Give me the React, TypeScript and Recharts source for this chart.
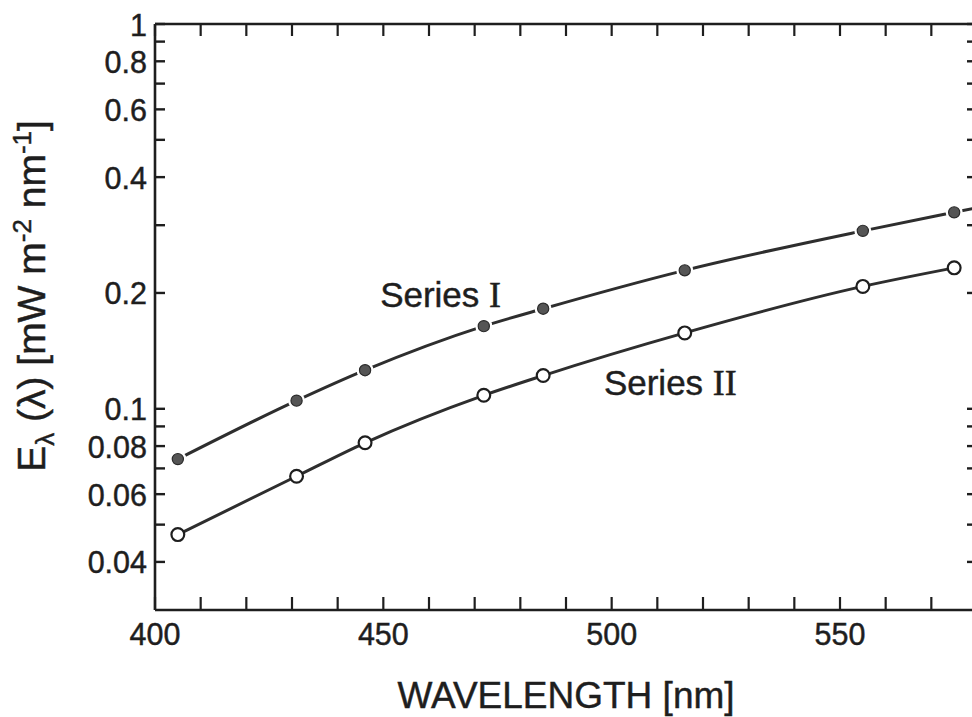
import React from 'react';
import { LineChart, Line, XAxis, YAxis, ReferenceDot } from 'recharts';

// ---- data ----
const wavelengths = [405, 431, 446, 472, 485, 516, 555, 575, 580];
const seriesI = [0.074, 0.105, 0.126, 0.164, 0.182, 0.229, 0.29, 0.324, 0.333];
const seriesII = [0.0471, 0.0668, 0.0816, 0.1084, 0.122, 0.1575, 0.208, 0.2324, null];
const seriesIMarked = [true, true, true, true, true, true, true, true, false];

const xTicks = [400, 410, 420, 430, 440, 450, 460, 470, 480, 490, 500, 510, 520, 530, 540, 550, 560, 570, 580];
const xTickLabels = [400, 450, 500, 550];
const yTicks = [0.04, 0.05, 0.06, 0.07, 0.08, 0.09, 0.1, 0.2, 0.3, 0.4, 0.5, 0.6, 0.7, 0.8, 0.9, 1];
const yTickLabelValues = [0.04, 0.06, 0.08, 0.1, 0.2, 0.4, 0.6, 0.8, 1];
const yTickLabelTexts = ['0.04', '0.06', '0.08', '0.1', '0.2', '0.4', '0.6', '0.8', '1'];

const annotationWords = ['Series', 'Series'];
const annotationNumerals = ['I', 'II'];
const annotationX = [449.3, 498.3];
const annotationY = [0.1834, 0.1089];

const xTitle = 'WAVELENGTH [nm]';

const rows = wavelengths.map((wl, i) => ({ wl, s1: seriesI[i], s2: seriesII[i] }));

const INK = '#1e1e1e';
const SANS = '"Liberation Sans", Arial, Helvetica, sans-serif';
const SERIF = '"Liberation Serif", "Times New Roman", serif';
const TXT_STROKE = 0.45;

const yLabelFor = (v: number) => {
  const i = yTickLabelValues.findIndex((t) => Math.abs(t - v) < 1e-9);
  return i >= 0 ? yTickLabelTexts[i] : null;
};

const LeftTick = (props: any) => {
  const { x, y, payload } = props;
  const label = yLabelFor(payload.value);
  return (
    <g>
      <line x1={x} y1={y} x2={x + 10} y2={y} stroke={INK} strokeWidth={2.4} />
      {label && (
        <text x={x - 8} y={y} dy={11.5} textAnchor="end" fontSize={30.5} fill={INK} stroke={INK} strokeWidth={TXT_STROKE} fontFamily={SANS}>
          {label}
        </text>
      )}
    </g>
  );
};

const RightTick = (props: any) => {
  const { x, y } = props;
  return <line x1={x - 10} y1={y} x2={x} y2={y} stroke={INK} strokeWidth={2.4} />;
};

const BottomTick = (props: any) => {
  const { x, y, payload } = props;
  const show = xTickLabels.includes(payload.value);
  return (
    <g>
      <line x1={x} y1={y - 13} x2={x} y2={y} stroke={INK} strokeWidth={2.2} />
      {show && (
        <text x={x} y={y} dy={35} textAnchor="middle" fontSize={30.5} fill={INK} stroke={INK} strokeWidth={TXT_STROKE} fontFamily={SANS}>
          {payload.value}
        </text>
      )}
    </g>
  );
};

const TopTick = (props: any) => {
  const { x, y } = props;
  return <line x1={x} y1={y} x2={x} y2={y + 12} stroke={INK} strokeWidth={2.2} />;
};

const XTitle = (props: any) => {
  const vb = props.viewBox || {};
  return (
    <text x={vb.x + vb.width / 2} y={vb.y + 98} textAnchor="middle" fontSize={37} fill={INK} stroke={INK} strokeWidth={TXT_STROKE} fontFamily={SANS}>
      {xTitle}
    </text>
  );
};

const YTitle = (props: any) => {
  const vb = props.viewBox || {};
  const cx = vb.x + 45;
  const cy = vb.y + vb.height / 2 - 21;
  return (
    <text
      x={cx}
      y={cy}
      textAnchor="middle"
      fontSize={39}
      fill={INK}
      stroke={INK}
      strokeWidth={TXT_STROKE}
      fontFamily={SANS}
      transform={`rotate(-90, ${cx}, ${cy})`}
    >
      E
      <tspan fontSize={26} dy={9}>λ</tspan>
      <tspan dy={-9}> (λ) [mW m</tspan>
      <tspan fontSize={26} dy={-14}>-2</tspan>
      <tspan dy={14}> nm</tspan>
      <tspan fontSize={26} dy={-14}>-1</tspan>
      <tspan dy={14}>]</tspan>
    </text>
  );
};

const FilledDot = (props: any) => {
  const { cx, cy, index } = props;
  if (!seriesIMarked[index] || cx == null || cy == null) return <g key={`f${index}`} />;
  return (
    <g key={`f${index}`}>
      <circle cx={cx} cy={cy} r={8.5} fill="#ffffff" />
      <circle cx={cx} cy={cy} r={5.6} fill="#555555" stroke="#2a2a2a" strokeWidth={1.2} />
    </g>
  );
};

const OpenDot = (props: any) => {
  const { cx, cy, index } = props;
  if (cx == null || cy == null) return <g key={`o${index}`} />;
  return <circle key={`o${index}`} cx={cx} cy={cy} r={6.4} fill="#ffffff" stroke={INK} strokeWidth={2.2} />;
};

const makeAnnotation = (i: number) => (props: any) => {
  const { cx, cy } = props;
  return (
    <text x={cx} y={cy} fontSize={35} fill={INK} stroke={INK} strokeWidth={TXT_STROKE} fontFamily={SANS}>
      {annotationWords[i]}{' '}
      <tspan fontFamily={SERIF} fontSize={36}>{annotationNumerals[i]}</tspan>
    </text>
  );
};

export default function App() {
  return (
    <div style={{ position: 'absolute', left: 0, top: 0, width: 972, height: 717, overflow: 'hidden', background: '#fff' }}>
      <LineChart width={1000} height={717} data={rows} margin={{ top: 0, right: 13, bottom: 0, left: 0 }}>
        <XAxis
          xAxisId="bottom"
          dataKey="wl"
          type="number"
          domain={[400, 580]}
          allowDataOverflow
          ticks={xTicks}
          interval={0}
          tick={BottomTick}
          tickLine={false}
          tickSize={0}
          tickMargin={0}
          axisLine={{ stroke: INK, strokeWidth: 2.6 }}
          height={107}
          label={{ content: XTitle }}
        />
        <XAxis
          xAxisId="top"
          orientation="top"
          dataKey="wl"
          type="number"
          domain={[400, 580]}
          allowDataOverflow
          ticks={xTicks}
          interval={0}
          tick={TopTick}
          tickLine={false}
          tickSize={0}
          tickMargin={0}
          axisLine={{ stroke: INK, strokeWidth: 2.6 }}
          height={24}
        />
        <YAxis
          yAxisId="left"
          type="number"
          scale="log"
          domain={[0.03, 1]}
          allowDataOverflow
          ticks={yTicks}
          interval={0}
          tick={LeftTick}
          tickLine={false}
          tickSize={0}
          tickMargin={0}
          axisLine={{ stroke: INK, strokeWidth: 2.6 }}
          width={155}
          label={{ content: YTitle }}
        />
        <YAxis
          yAxisId="right"
          orientation="right"
          type="number"
          scale="log"
          domain={[0.03, 1]}
          allowDataOverflow
          ticks={yTicks}
          interval={0}
          tick={RightTick}
          tickLine={false}
          tickSize={0}
          tickMargin={0}
          axisLine={{ stroke: INK, strokeWidth: 2.6 }}
          width={10}
        />
        <Line
          xAxisId="bottom"
          yAxisId="left"
          dataKey="s2"
          type="monotone"
          stroke="#2e2e2e"
          strokeWidth={3}
          dot={OpenDot}
          activeDot={false}
          isAnimationActive={false}
        />
        <Line
          xAxisId="bottom"
          yAxisId="left"
          dataKey="s1"
          type="monotone"
          stroke="#2e2e2e"
          strokeWidth={3}
          dot={FilledDot}
          activeDot={false}
          isAnimationActive={false}
        />
        {annotationX.map((ax, i) => (
          <ReferenceDot
            key={`ann${i}`}
            xAxisId="bottom"
            yAxisId="left"
            x={ax}
            y={annotationY[i]}
            r={0}
            shape={makeAnnotation(i)}
          />
        ))}
      </LineChart>
    </div>
  );
}
